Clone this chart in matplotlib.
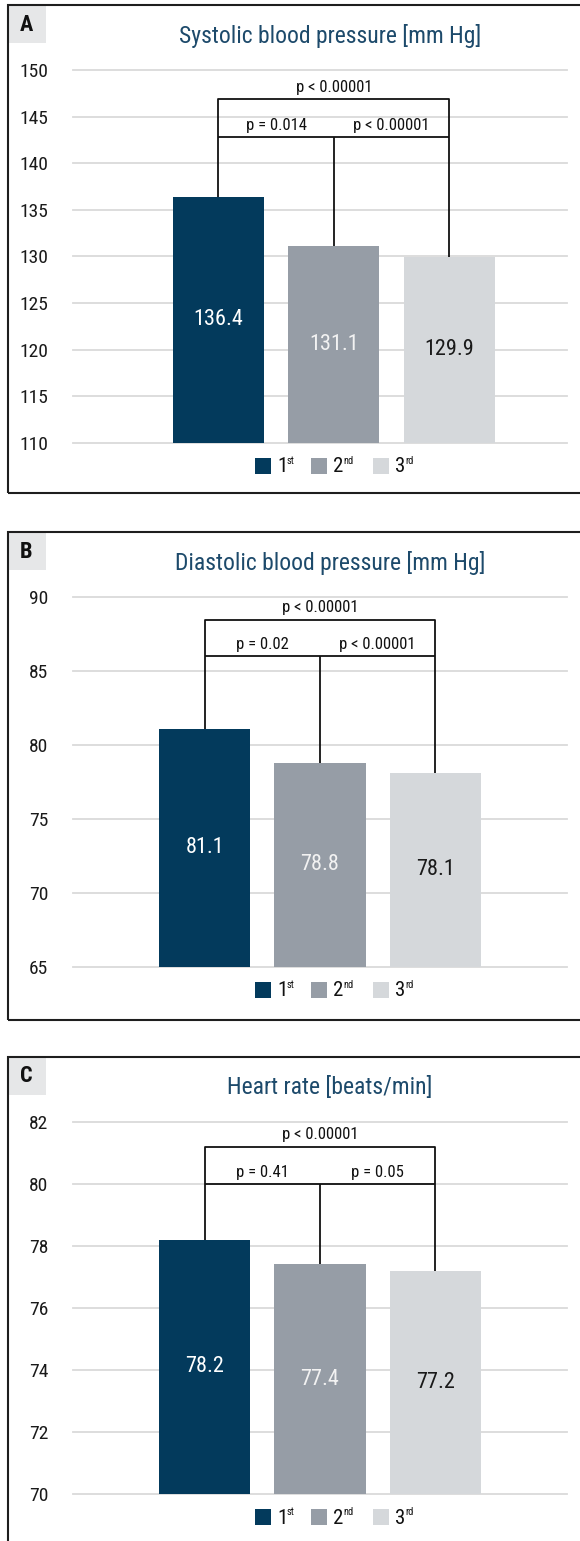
import matplotlib
matplotlib.use("Agg")
import matplotlib.pyplot as plt
from matplotlib.patches import Rectangle
from matplotlib import font_manager

# Data
visits = ["1", "2", "3"]
suffixes = ["st", "nd", "rd"]
sbp = [136.4, 131.1, 129.9]
dbp = [81.1, 78.8, 78.1]
hr = [78.2, 77.4, 77.2]
p_sbp = ["p = 0.014", "p < 0.00001", "p < 0.00001"]
p_dbp = ["p = 0.02", "p < 0.00001", "p < 0.00001"]
p_hr = ["p = 0.41", "p = 0.05", "p < 0.00001"]
titles = ["Systolic blood pressure [mm Hg]", "Diastolic blood pressure [mm Hg]",
          "Heart rate [beats/min]"]
letters = ["A", "B", "C"]
yticks_sbp = list(range(110, 151, 5))
yticks_dbp = list(range(65, 91, 5))
yticks_hr = list(range(70, 83, 2))

# Bracket heights (lower, upper) per panel
brk_sbp = (142.8, 146.85)
brk_dbp = (86.0, 88.45)
brk_hr = (80.0, 81.2)

bar_colors = ["#033a5c", "#969da6", "#d5d8db"]
label_colors = ["#ffffff", "#f2f2f2", "#1a1a1a"]
title_color = "#1d4a6b"
grid_color = "#dadada"

# Prefer a narrow sans face when one is available
narrow = None
entries = font_manager.fontManager.ttflist
for want in ["Roboto Condensed", "Liberation Sans Narrow", "Open Sans Condensed",
             "Noto Sans Condensed", "DejaVu Sans Condensed"]:
    if any(f.name == want for f in entries):
        narrow = (want, "normal")
        break
if narrow is None:
    for f in entries:
        st = str(f.stretch).lower()
        if f.name in ("Noto Sans", "Open Sans", "Roboto", "DejaVu Sans") and \
                ("condensed" in st or st in ("75", "62", "50")) and f.style == "normal":
            narrow = (f.name, "condensed")
            break
if narrow is None:
    narrow = ("Roboto", "normal")

plt.rcParams["font.family"] = [narrow[0], "DejaVu Sans"]
plt.rcParams["font.stretch"] = narrow[1]

W, H = 580, 1541
fig = plt.figure(figsize=(W / 100, H / 100), dpi=100)


def fx(px):
    return px / W


def fy(py):
    return 1 - py / H


panels = [
    dict(vals=sbp, pv=p_sbp, ticks=yticks_sbp, brk=brk_sbp,
         frame=(5, 493), ax_y=(70, 442.7), xlim=(-1.26, 3.02)),
    dict(vals=dbp, pv=p_dbp, ticks=yticks_dbp, brk=brk_dbp,
         frame=(532, 1020), ax_y=(596.7, 967), xlim=(-1.14, 3.14)),
    dict(vals=hr, pv=p_hr, ticks=yticks_hr, brk=brk_hr,
         frame=(1056.5, 1600), ax_y=(1121.7, 1494), xlim=(-1.14, 3.14)),
]

ax_left, ax_right = 73, 567

for i, P in enumerate(panels):
    ftop, fbot = P["frame"]
    # Panel frame (open on the right side, beyond the canvas)
    fig.add_artist(Rectangle((fx(7.5), fy(fbot)), fx(600) - fx(7.5),
                             fy(ftop) - fy(fbot), transform=fig.transFigure,
                             fill=False, edgecolor="#1e1e1e", lw=1.5, zorder=5))
    # Letter box
    fig.add_artist(Rectangle((fx(8.5), fy(ftop + 38)), fx(37), (38) / H,
                             transform=fig.transFigure, facecolor="#e6e7e8",
                             edgecolor="none", zorder=4))
    fig.text(fx(26), fy(ftop + 20), letters[i], ha="center", va="center",
             fontsize=16, fontweight="bold", color="#111111", zorder=6)
    # Title
    fig.text(fx(330), fy(ftop + 31), titles[i], ha="center", va="center",
             fontsize=17, color=title_color)

    top, bot = P["ax_y"]
    ax = fig.add_axes([fx(ax_left), fy(bot), (ax_right - ax_left) / W, (bot - top) / H])
    ticks = P["ticks"]
    ax.set_ylim(ticks[0], ticks[-1])
    ax.set_xlim(*P["xlim"])
    for t in ticks:
        ax.axhline(t, color=grid_color, lw=1.3, zorder=0, clip_on=False)
    xs = list(range(len(P["vals"])))
    ax.bar(xs, [v - ticks[0] for v in P["vals"]], bottom=ticks[0], width=0.79,
           color=bar_colors, zorder=2)
    for x, v, c in zip(xs, P["vals"], label_colors):
        ax.text(x, (v + ticks[0]) / 2, f"{v:.1f}", ha="center", va="center",
                fontsize=16, color=c, zorder=3)

    # Significance brackets
    lo, hi = P["brk"]
    v = P["vals"]
    lk = dict(color="#111111", lw=1.3, zorder=3, solid_capstyle="butt", clip_on=False)
    ax.plot([0, 0, 2, 2], [v[0], hi, hi, v[2]], **lk)
    ax.plot([0, 2], [lo, lo], **lk)
    ax.plot([1, 1], [v[1], lo], **lk)
    ax.annotate(P["pv"][0], (0.5, lo), xytext=(0, 3), textcoords="offset points",
                ha="center", va="bottom", fontsize=12, color="#111111")
    ax.annotate(P["pv"][1], (1.5, lo), xytext=(0, 3), textcoords="offset points",
                ha="center", va="bottom", fontsize=12, color="#111111")
    ax.annotate(P["pv"][2], (1.0, hi), xytext=(0, 3), textcoords="offset points",
                ha="center", va="bottom", fontsize=12, color="#111111")

    ax.set_yticks(ticks)
    ax.set_yticklabels([str(t) for t in ticks], fontsize=14, color="#1a1a1a")
    ax.tick_params(axis="y", length=0, pad=18)
    ax.set_xticks([])
    for s in ax.spines.values():
        s.set_visible(False)
    ax.patch.set_alpha(0)

    # Legend
    ly = bot + 23
    sq_x = [255, 311, 373]
    for k in range(3):
        fig.add_artist(Rectangle((fx(sq_x[k]), fy(ly + 8)), 16 / W, 16 / H,
                                 transform=fig.transFigure, facecolor=bar_colors[k],
                                 edgecolor="none"))
        fig.text(fx(sq_x[k] + 22), fy(ly + 1), visits[k], ha="left", va="center",
                 fontsize=15, color="#111111")
        fig.text(fx(sq_x[k] + 32), fy(ly - 5), suffixes[k], ha="left", va="center",
                 fontsize=7.5, color="#111111")

fig.savefig("out.png", dpi=100, facecolor="white")
